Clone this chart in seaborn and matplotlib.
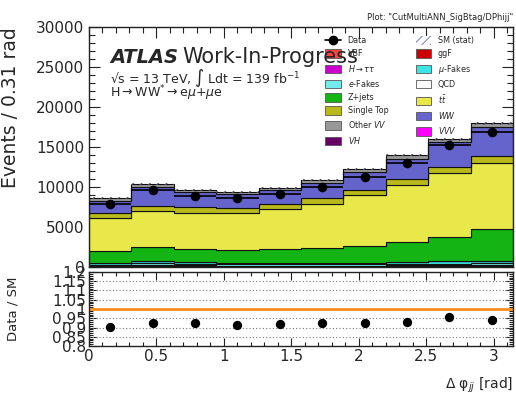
import numpy as np
import pandas as pd
import matplotlib
matplotlib.use("Agg")
import matplotlib.pyplot as plt
from matplotlib.ticker import MultipleLocator, FuncFormatter
from matplotlib.patches import Patch
from matplotlib.lines import Line2D
import seaborn as sns

# ---------------------------------------------------------------- data
# Delta phi_jj, 10 bins between 0 and pi; expected events per bin
ggF        = [130, 150, 140, 130, 130, 130, 130, 150, 160, 160]
VBF        = [20, 30, 25, 25, 25, 25, 25, 30, 35, 40]
H_tautau   = [15, 20, 15, 15, 15, 15, 15, 20, 20, 20]
VH         = [10, 10, 10, 10, 10, 10, 10, 10, 10, 10]
VVV        = [5, 5, 5, 5, 5, 5, 5, 5, 5, 5]
e_fakes    = [120, 240, 170, 150, 135, 135, 135, 190, 200, 205]
mu_fakes   = [160, 300, 215, 205, 180, 180, 180, 255, 270, 280]
QCD        = [0, 0, 0, 0, 0, 0, 0, 0, 0, 0]
Zjets      = [1580, 1710, 1670, 1580, 1710, 1830, 2080, 2420, 3090, 3990]
ttbar      = [4050, 4580, 4540, 4590, 5000, 5550, 6380, 7130, 7910, 8250]
single_top = [620, 620, 670, 620, 620, 700, 670, 750, 760, 920]
WW         = [1580, 2300, 1870, 1800, 1800, 1960, 2250, 2580, 3140, 3620]
other_VV   = [370, 380, 300, 290, 290, 340, 330, 420, 360, 440]
stat_err   = [110, 120, 110, 110, 110, 120, 130, 140, 150, 160]
data       = [7830, 9570, 8900, 8580, 9100, 10030, 11300, 13000, 15290, 16900]

n_bins = 10
x_max = np.pi

# stack order, top of the stack first
processes = ["Other VV", "WW", "Single Top", "ttbar", "Z+jets", "QCD",
             "mu-Fakes", "e-Fakes", "VVV", "VH", "H->tautau", "VBF", "ggF"]
yields = {"Other VV": other_VV, "WW": WW, "Single Top": single_top,
          "ttbar": ttbar, "Z+jets": Zjets, "QCD": QCD, "mu-Fakes": mu_fakes,
          "e-Fakes": e_fakes, "VVV": VVV, "VH": VH, "H->tautau": H_tautau,
          "VBF": VBF, "ggF": ggF}
colors = {"Other VV": "#989898", "WW": "#6464cc", "Single Top": "#b9b91c",
          "ttbar": "#e8e84a", "Z+jets": "#14b414", "QCD": "#ffffff",
          "mu-Fakes": "#3ce4e4", "e-Fakes": "#74eaea", "VVV": "#ff00ff",
          "VH": "#660066", "H->tautau": "#cc00cc", "VBF": "#ff4444",
          "ggF": "#cc0000"}

edges = np.linspace(0, x_max, n_bins + 1)
centers = 0.5 * (edges[:-1] + edges[1:])

df = pd.concat([pd.DataFrame({"x": centers, "w": yields[p], "process": p})
                for p in processes], ignore_index=True)
total = np.sum([yields[p] for p in processes], axis=0)
data_arr = np.array(data, dtype=float)
ratio = data_arr / total

# ---------------------------------------------------------------- style
sns.set_style("ticks")
plt.rcParams["font.family"] = ["DejaVu Sans"]
plt.rcParams["hatch.linewidth"] = 0.8

W, H = 516, 398
fig = plt.figure(figsize=(W / 100, H / 100), dpi=100)


def box(l, t, r, b):
    return [l / W, 1 - b / H, (r - l) / W, (b - t) / H]


ax = fig.add_axes(box(89, 27, 513, 267))
rax = fig.add_axes(box(89, 272, 513, 346))

# ---------------------------------------------------------------- main pad
sns.histplot(data=df, x="x", weights="w", hue="process", hue_order=processes,
             palette=colors, multiple="stack", element="step",
             bins=list(edges), alpha=1, edgecolor="#111111", linewidth=0.8,
             legend=False, ax=ax)

# MC statistical uncertainty band
err = np.array(stat_err, dtype=float)
ax.fill_between(edges, np.r_[total - err, total[-1] - err[-1]],
                np.r_[total + err, total[-1] + err[-1]], step="post",
                facecolor="none", edgecolor="#555566", hatch="////",
                linewidth=0, zorder=3)

# data with bin-width bars
ax.hlines(data_arr, edges[:-1], edges[1:], color="black", lw=1.2, zorder=4)
sns.scatterplot(x=centers, y=data_arr, color="black", s=48, linewidth=0,
                ax=ax, zorder=5)

ax.set_xlim(0, x_max)
ax.set_ylim(0, 30000)
ax.set_xlabel("")
ax.set_ylabel("Events / 0.31 rad", fontsize=13.5, loc="top")
ax.yaxis.set_label_coords(-0.163, 1.0)
ax.xaxis.set_major_locator(MultipleLocator(0.5))
ax.xaxis.set_minor_locator(MultipleLocator(0.1))
ax.yaxis.set_major_locator(MultipleLocator(5000))
ax.yaxis.set_minor_locator(MultipleLocator(1000))
ax.tick_params(which="both", direction="in", top=True, right=True,
               labelbottom=False, labelsize=11, width=0.8, color="#222222")
ax.tick_params(which="major", length=8)
ax.tick_params(which="minor", length=4)

# legend
entries = [
    ("Data", Line2D([0], [0], color="black", marker="o", ms=6, lw=1.2)),
    ("VBF", colors["VBF"]),
    (r"$H\rightarrow\tau\tau$", colors["H->tautau"]),
    (r"$e$-Fakes", colors["e-Fakes"]),
    ("Z+jets", colors["Z+jets"]),
    ("Single Top", colors["Single Top"]),
    (r"Other $VV$", colors["Other VV"]),
    (r"$VH$", colors["VH"]),
    ("SM (stat)", Patch(facecolor="white", edgecolor="#8888cc", hatch="////",
                        linewidth=0)),
    ("ggF", colors["ggF"]),
    (r"$\mu$-Fakes", colors["mu-Fakes"]),
    ("QCD", colors["QCD"]),
    (r"$t\bar{t}$", colors["ttbar"]),
    (r"$WW$", colors["WW"]),
    (r"$VVV$", colors["VVV"]),
]
handles, labels = [], []
for lab, h in entries:
    if isinstance(h, str):
        h = Patch(facecolor=h, edgecolor="#555555", linewidth=0.6)
    handles.append(h)
    labels.append(lab)
ax.legend(handles, labels, ncol=2, loc="upper left",
          bbox_to_anchor=(0.55, 0.975), fontsize=5.8, frameon=False,
          handlelength=1.95, handleheight=1.25, handletextpad=0.8,
          labelspacing=0.52, columnspacing=3.4, borderaxespad=0)

# labels
fig.text(110 / W, 1 - 63 / H, "ATLAS", fontsize=14, fontweight="bold",
         fontstyle="italic", va="baseline", ha="left")
fig.text(182 / W, 1 - 63 / H, "Work-In-Progress", fontsize=15,
         va="baseline", ha="left")
fig.text(110 / W, 1 - 83 / H,
         "\u221as = 13 TeV, \u222b Ldt = 139 fb$^{-1}$", fontsize=9,
         va="baseline", ha="left")
fig.text(110 / W, 1 - 97 / H, r"H$\rightarrow$WW$^{*}$$\rightarrow$e$\mu$+$\mu$e",
         fontsize=9, va="baseline", ha="left")
fig.text(513 / W, 1 - 20 / H, 'Plot: "CutMultiANN_SigBtag/DPhijj"',
         fontsize=6, va="baseline", ha="right")

# ---------------------------------------------------------------- ratio pad
for v in [0.85, 0.9, 0.95, 1.05, 1.1, 1.15]:
    rax.axhline(v, color="#777777", ls=(0, (1, 2)), lw=0.8, zorder=1)
rax.axhline(1.0, color="#ff8c1a", lw=2, zorder=2)
sns.scatterplot(x=centers, y=ratio, color="black", s=45, linewidth=0,
                ax=rax, zorder=5)
rax.set_xlim(0, x_max)
rax.set_ylim(0.8, 1.2)
rax.xaxis.set_major_locator(MultipleLocator(0.5))
rax.xaxis.set_minor_locator(MultipleLocator(0.1))
rax.yaxis.set_major_locator(MultipleLocator(0.05))
rax.yaxis.set_minor_locator(MultipleLocator(0.01))
rax.yaxis.set_major_formatter(FuncFormatter(lambda v, p: f"{v:g}"))
rax.xaxis.set_major_formatter(FuncFormatter(lambda v, p: f"{v:g}"))
rax.tick_params(which="both", direction="in", top=True, right=True,
                labelsize=11, width=0.8, color="#222222", pad=2)
rax.tick_params(which="major", length=6)
rax.tick_params(which="minor", length=3)
rax.set_ylabel("Data / SM", fontsize=9.5)
rax.yaxis.set_label_coords(-0.163, 0.5)
rax.set_xlabel("\u0394 \u03c6$_{jj}$ [rad]", fontsize=10, loc="right")
rax.xaxis.set_label_coords(1.0, -0.4)

for a in (ax, rax):
    for s in a.spines.values():
        s.set_linewidth(1.0)
        s.set_color("#222222")

fig.savefig("out.png", dpi=100)
